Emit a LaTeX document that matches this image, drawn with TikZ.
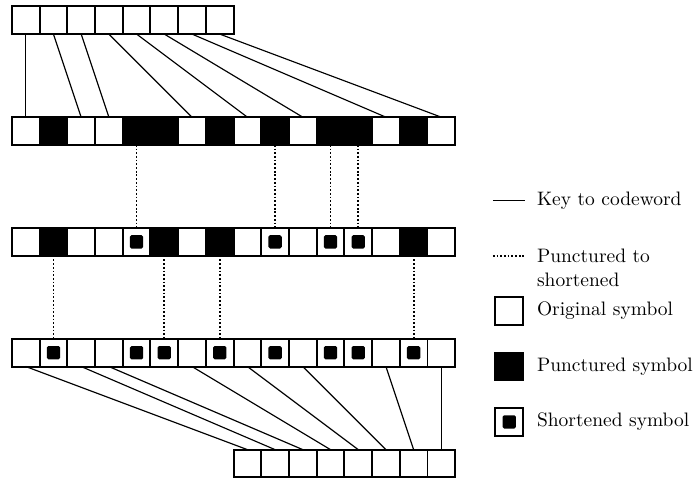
\documentclass[tikz,border=0pt]{standalone}
\begin{document}
\begin{tikzpicture}[x=0.5cm, y=0.5cm,
        orig/.style={draw, line width=1pt, minimum size=0.5cm, inner sep=0pt, outer sep=0pt},
        punc/.style={orig, fill=black},
        shrt/.style={orig, path picture={\fill[rounded corners=0.8pt]
            ([shift={(-0.12cm,-0.12cm)}]path picture bounding box.center) rectangle ++(0.24cm,0.24cm);}},
        link/.style={line width=0.6pt},
        hole/.style={line width=0.9pt, densely dotted},
        note/.style={anchor=west, align=left, inner sep=2pt}]
    \useasboundingbox (-0.43,-0.02) rectangle (24.62,17.23);
    % key rows
    \foreach \i in {0,...,7} \node[orig] (k\i) at (\i+0.5,16.5) {};
    \foreach \i in {0,...,7} \node[orig] (m\i) at (\i+8.5,0.5) {};
    % codeword rows
    \foreach \t [count=\i from 0] in {orig,punc,orig,orig,punc,punc,orig,punc,orig,punc,orig,punc,punc,orig,punc,orig}
        \node[\t] (x\i) at (\i+0.5,12.5) {};
    \foreach \t [count=\i from 0] in {orig,punc,orig,orig,shrt,punc,orig,punc,orig,shrt,orig,shrt,shrt,orig,punc,orig}
        \node[\t] (y\i) at (\i+0.5,8.5) {};
    \foreach \t [count=\i from 0] in {orig,shrt,orig,orig,shrt,shrt,orig,shrt,orig,shrt,orig,shrt,shrt,orig,shrt,orig}
        \node[\t] (z\i) at (\i+0.5,4.5) {};
    % connectors
    \foreach \i/\j in {0/0,1/2,2/3,3/6,4/8,5/10,6/13,7/15} {
        \draw[link] (k\i.south) -- (x\j.north);
        \draw[link] (z\j.south) -- (m\i.north);
    }
    \foreach \i in {4,9,11,12} \draw[hole] (x\i.south) -- (y\i.north);
    \foreach \i in {1,5,7,14} \draw[hole] (y\i.south) -- (z\i.north);
    % legend
    \coordinate (l1) at (17.36,10); \coordinate (l2) at (18.52,10);
    \coordinate (l3) at (17.36,8); \coordinate (l4) at (18.52,8);
    \draw[link] (l1) -- (l2);
    \draw[hole] (l3) -- (l4);
    \node[note] (n1) at (18.8,10) {Key to codeword};
    \node[note] (n2) at (18.8,7.56) {Punctured to\\shortened};
    \node[orig] (b1) at (17.95,6) {};
    \node[punc] (b2) at (17.95,4) {};
    \node[shrt] (b3) at (17.95,2) {};
    \node[note] (n3) at (18.8,6) {Original symbol};
    \node[note] (n4) at (18.8,4) {Punctured symbol};
    \node[note] (n5) at (18.8,2) {Shortened symbol};
\end{tikzpicture}
\end{document}
